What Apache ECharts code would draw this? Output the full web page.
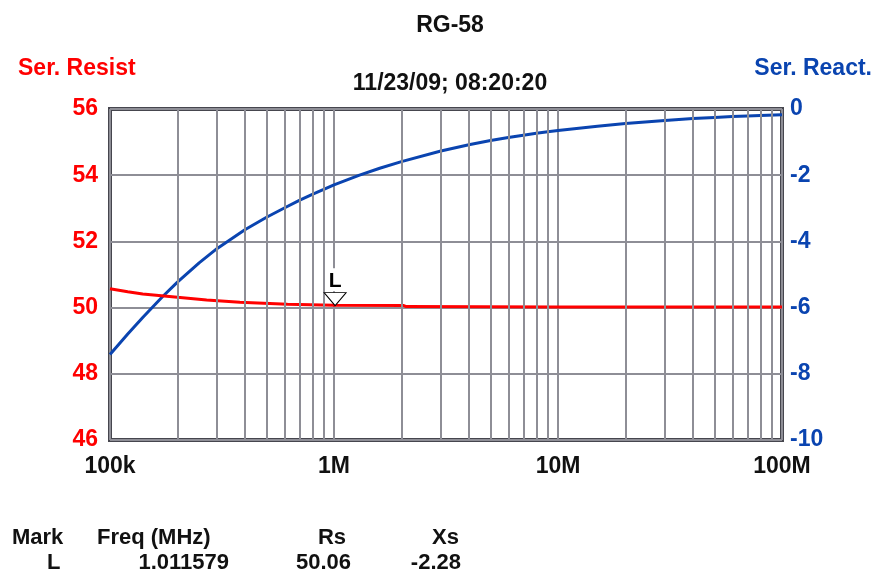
<!DOCTYPE html>
<html>
<head>
<meta charset="utf-8">
<script src="https://cdn.jsdelivr.net/npm/echarts@6/dist/echarts.min.js"></script>
<style>
  html, body { margin: 0; padding: 0; background: #fff; }
  #chart { width: 875px; height: 571px; }
</style>
</head>
<body>
<div id="chart"></div>
<script>
// frequency (Hz) -> series resistance
var rsFreq = [1e5, 1.2e5, 1.4e5, 2e5, 2.7e5, 3.8e5, 6.2e5, 1e6, 2.05e6, 2.1e6, 1e7, 1e8];
var rsValues = [50.57, 50.48, 50.41, 50.31, 50.23, 50.16, 50.10, 50.07, 50.06, 50.03, 50.02, 50.02];

// frequency (Hz) -> series reactance
var xsFreq = [1e5, 1.2e5, 1.4e5, 1.71e5, 2e5, 2.5e5, 3e5, 4e5, 5e5, 6e5, 7e5, 8e5, 9e5, 1e6,
  1.3e6, 1.6e6, 2e6, 3e6, 4e6, 5e6, 6e6, 7e6, 8e6, 9e6, 1e7, 1.5e7, 2e7, 3e7, 4e7, 5e7, 6e7, 7e7, 8e7, 1e8];
var xsValues = [-7.42, -6.80, -6.30, -5.68, -5.23, -4.65, -4.22, -3.65, -3.27, -2.99, -2.76, -2.58, -2.43, -2.29,
  -2.0, -1.79, -1.59, -1.27, -1.08, -0.95, -0.86, -0.79, -0.735, -0.69, -0.65, -0.52, -0.44, -0.35, -0.29, -0.255, -0.23, -0.21, -0.195, -0.175];

// x tick labels
var xTickValues = [1e5, 1e6, 1e7, 1e8];
var xTickLabels = ['100k', '1M', '10M', '100M'];

// minor vertical grid lines (2..9 per decade)
var minorGrid = [];
var decades = [1e5, 1e6, 1e7];
var mults = [2, 3, 4, 5, 6, 7, 8, 9];
decades.forEach(function (d) {
  mults.forEach(function (m) { minorGrid.push(d * m); });
});

// marker
var markerName = 'L';
var markerFreq = 1.011579e6;
var markerRs = 50.06;
var markerXs = -2.28;

var FONT = 'Liberation Sans';
var RED = '#ff0000';
var BLUE = '#0a44b0';
var GRID = '#8e8e96';
var TXT = '#111';

function pairs(xs, ys) {
  var out = [];
  for (var i = 0; i < xs.length; i++) out.push([xs[i], ys[i]]);
  return out;
}

function txt(t, pos, color, size) {
  var o = { type: 'text', style: { text: t, fill: color, font: 'bold ' + size + 'px "Liberation Sans"' } };
  for (var k in pos) o[k] = pos[k];
  return o;
}

var chart = echarts.init(document.getElementById('chart'));

var option = {
  animation: false,
  backgroundColor: '#fff',
  title: [
    {
      text: 'RG-58', left: 445, top: 9, textAlign: 'center',
      textStyle: { fontFamily: FONT, fontWeight: 'bold', fontSize: 23, color: TXT }
    },
    {
      text: '11/23/09; 08:20:20', left: 445, top: 67, textAlign: 'center',
      textStyle: { fontFamily: FONT, fontWeight: 'bold', fontSize: 23, color: TXT }
    }
  ],
  grid: {
    left: 110, right: 93, top: 109, bottom: 131,
    show: true, borderColor: '#46464e', borderWidth: 4, backgroundColor: '#fff'
  },
  xAxis: {
    type: 'log', logBase: 10, min: 1e5, max: 1e8,
    axisLine: { show: false },
    axisTick: { show: false },
    splitLine: { show: true, lineStyle: { color: GRID, width: 2 } },
    axisLabel: {
      margin: 15,
      fontFamily: FONT, fontWeight: 'bold', fontSize: 23, color: TXT,
      formatter: function (v) {
        for (var i = 0; i < xTickValues.length; i++) {
          if (Math.abs(v / xTickValues[i] - 1) < 1e-6) return xTickLabels[i];
        }
        return '';
      }
    }
  },
  yAxis: [
    {
      type: 'value', min: 46, max: 56, interval: 2, position: 'left',
      axisLine: { show: false }, axisTick: { show: false },
      splitLine: { show: true, lineStyle: { color: GRID, width: 2 } },
      axisLabel: { margin: 12, fontFamily: FONT, fontWeight: 'bold', fontSize: 23, color: RED }
    },
    {
      type: 'value', min: -10, max: 0, interval: 2, position: 'right',
      axisLine: { show: false }, axisTick: { show: false },
      splitLine: { show: false },
      axisLabel: { margin: 8, fontFamily: FONT, fontWeight: 'bold', fontSize: 23, color: BLUE }
    }
  ],
  series: [
    {
      name: 'minor grid', type: 'line', data: [], z: 1, silent: true,
      markLine: {
        silent: true, symbol: ['none', 'none'], animation: false,
        label: { show: false },
        lineStyle: { color: GRID, width: 2, type: 'solid' },
        data: minorGrid.map(function (v) { return { xAxis: v }; })
      }
    },
    {
      name: 'Ser. React.', type: 'line', yAxisIndex: 1, z: 3,
      showSymbol: false,
      lineStyle: { color: BLUE, width: 3 },
      data: pairs(xsFreq, xsValues)
    },
    {
      name: 'Ser. Resist', type: 'line', yAxisIndex: 0, z: 4,
      showSymbol: false,
      lineStyle: { color: RED, width: 3 },
      data: pairs(rsFreq, rsValues),
      markPoint: {
        silent: true,
        symbol: 'path://M0,0 L22,0 L11,13 Z',
        symbolSize: [22, 13],
        symbolOffset: [0, '-50%'],
        itemStyle: { color: '#fff', borderColor: '#000', borderWidth: 1 },
        label: {
          show: true, position: 'top', distance: 1,
          formatter: markerName,
          fontFamily: FONT, fontWeight: 'bold', fontSize: 21, color: '#000',
          backgroundColor: '#fff', padding: [2, 3, 0, 3]
        },
        data: [{ coord: [markerFreq, markerRs] }]
      }
    }
  ],
  graphic: [
    txt('Ser. Resist', { left: 18, top: 57 }, RED, 23),
    txt('Ser. React.', { right: 3, top: 57 }, BLUE, 23),
    // marker table
    txt('Mark', { left: 12, top: 527 }, TXT, 22),
    txt('Freq (MHz)', { left: 97, top: 527 }, TXT, 22),
    txt('Rs', { right: 875 - 346, top: 527 }, TXT, 22),
    txt('Xs', { right: 875 - 459, top: 527 }, TXT, 22),
    txt(markerName, { left: 47, top: 552 }, TXT, 22),
    txt(markerFreq / 1e6 + '', { right: 875 - 229, top: 552 }, TXT, 22),
    txt(markerRs.toFixed(2), { right: 875 - 351, top: 552 }, TXT, 22),
    txt(markerXs.toFixed(2), { right: 875 - 461, top: 552 }, TXT, 22)
  ]
};

chart.setOption(option);
</script>
</body>
</html>
